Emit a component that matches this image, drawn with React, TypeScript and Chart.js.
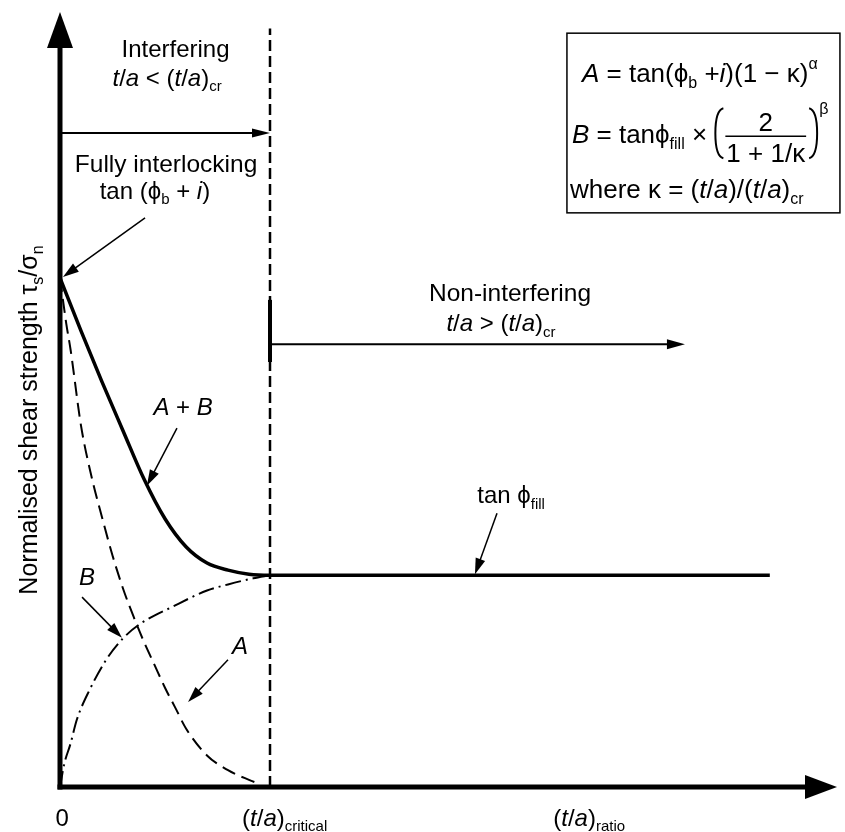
import React, { useEffect, useRef } from 'react';
import { Chart, registerables } from 'chart.js';

Chart.register(...registerables);

// A + B (solid): drops from tan(phi_b + i) then runs flat at tan(phi_fill)
const sumX = [0, 0.1, 0.2, 0.3, 0.4, 0.5, 0.6, 0.7, 0.8, 0.9, 1.0, 3.38];
const sumY = [1.0, 0.896, 0.796, 0.7, 0.605, 0.527, 0.472, 0.44, 0.426, 0.418, 0.416, 0.416];

// A (dashed)
const aX = [0, 0.03, 0.05, 0.1, 0.15, 0.2, 0.25, 0.3, 0.35, 0.4, 0.45, 0.5, 0.55, 0.6, 0.7, 0.8, 0.9, 0.95];
const aY = [1.0, 0.91, 0.86, 0.71, 0.61, 0.53, 0.455, 0.39, 0.335, 0.285, 0.24, 0.195, 0.155, 0.115, 0.062, 0.033, 0.014, 0.006];

// B (dash-dot)
const bX = [0, 0.02, 0.05, 0.08, 0.14, 0.22, 0.3, 0.38, 0.54, 0.7, 0.8, 0.92, 1.0];
const bY = [0, 0.045, 0.085, 0.132, 0.19, 0.25, 0.292, 0.32, 0.355, 0.386, 0.398, 0.41, 0.416];

// (t/a)critical marker line
const critX = [1, 1];
const critY = [0, 1.49];

// x positions of the axis labels: 0, (t/a)critical, (t/a)ratio
const tickX = [0.01, 1.07, 2.52];

const X_MAX = 3.7;
const Y_MAX = 1.5226;

const FONT = '"Liberation Sans", Arial, Helvetica, sans-serif';
const PHI = '\u03d5';

type Seg = { t: string; i?: boolean; s?: 'sub' | 'sup' };

const toPoints = (xs: number[], ys: number[]) => xs.map((x, i) => ({ x, y: ys[i] }));

// draws mixed italic / sub / sup text, y = middle of the capitals
function rich(ctx: CanvasRenderingContext2D, segs: Seg[], x: number, y: number, size: number, align = 'center') {
  const small = Math.round(size * 0.62);
  const fontOf = (g: Seg) => `${g.i ? 'italic ' : ''}${g.s ? small : size}px ${FONT}`;
  let w = 0;
  for (const g of segs) {
    ctx.font = fontOf(g);
    w += ctx.measureText(g.t).width;
  }
  let cx = align === 'center' ? x - w / 2 : align === 'right' ? x - w : x;
  const base = y + size * 0.36;
  ctx.textAlign = 'left';
  ctx.textBaseline = 'alphabetic';
  for (const g of segs) {
    ctx.font = fontOf(g);
    const dy = g.s === 'sub' ? size * 0.24 : g.s === 'sup' ? -size * 0.5 : 0;
    ctx.fillText(g.t, cx, base + dy);
    cx += ctx.measureText(g.t).width;
  }
  return w;
}

function arrow(ctx: CanvasRenderingContext2D, x1: number, y1: number, x2: number, y2: number, lw: number, hl: number, hw: number) {
  const ang = Math.atan2(y2 - y1, x2 - x1);
  const bx = x2 - hl * Math.cos(ang);
  const by = y2 - hl * Math.sin(ang);
  ctx.lineWidth = lw;
  ctx.beginPath();
  ctx.moveTo(x1, y1);
  ctx.lineTo(bx + Math.cos(ang), by + Math.sin(ang));
  ctx.stroke();
  ctx.beginPath();
  ctx.moveTo(x2, y2);
  ctx.lineTo(bx + (hw / 2) * Math.sin(ang), by - (hw / 2) * Math.cos(ang));
  ctx.lineTo(bx - (hw / 2) * Math.sin(ang), by + (hw / 2) * Math.cos(ang));
  ctx.closePath();
  ctx.fill();
}

const ta: Seg[] = [{ t: 't', i: true }, { t: '/' }, { t: 'a', i: true }];

const diagramPlugin = {
  id: 'diagram',
  afterDatasetsDraw(chart: Chart) {
    const { ctx, chartArea: ca } = chart;
    const sx = chart.scales.x;
    const sy = chart.scales.y;
    const X = (v: number) => sx.getPixelForValue(v);
    const Y = (v: number) => sy.getPixelForValue(v);

    ctx.save();
    ctx.fillStyle = '#000';
    ctx.strokeStyle = '#000';
    ctx.lineCap = 'butt';

    // axes with arrow heads
    arrow(ctx, X(0) - 2.5, Y(0), ca.right, Y(0), 5, 32, 24);
    arrow(ctx, X(0), Y(0) + 2.5, X(0), ca.top, 5, 36, 26);

    // axis labels
    rich(ctx, [{ t: '0' }], X(tickX[0]), Y(0) + 30, 24);
    rich(ctx, [{ t: '(' }, ...ta, { t: ')' }, { t: 'critical', s: 'sub' }], X(tickX[1]), Y(0) + 30, 24);
    rich(ctx, [{ t: '(' }, ...ta, { t: ')' }, { t: 'ratio', s: 'sub' }], X(tickX[2]), Y(0) + 30, 24);

    // y title
    ctx.save();
    ctx.translate(X(-0.152), Y(0.721));
    ctx.rotate(-Math.PI / 2);
    rich(ctx, [
      { t: 'Normalised shear strength \u03c4' }, { t: 's', s: 'sub' },
      { t: '/\u03c3' }, { t: 'n', s: 'sub' },
    ], 0, 0, 25);
    ctx.restore();

    // interfering region
    rich(ctx, [{ t: 'Interfering' }], X(0.55), Y(1.452), 24);
    rich(ctx, [...ta, { t: ' < (' }, ...ta, { t: ')' }, { t: 'cr', s: 'sub' }], X(0.51), Y(1.395), 24);
    arrow(ctx, X(0), Y(1.285), X(1), Y(1.285), 2, 18, 9);

    rich(ctx, [{ t: 'Fully interlocking' }], X(0.505), Y(1.226), 24.5);
    rich(ctx, [{ t: 'tan (' + PHI }, { t: 'b', s: 'sub' }, { t: ' + ' }, { t: 'i', i: true }, { t: ')' }], X(0.452), Y(1.173), 24);
    arrow(ctx, X(0.405), Y(1.118), X(0.014), Y(1.002), 1.5, 16, 10);

    // non-interfering region
    rich(ctx, [{ t: 'Non-interfering' }], X(2.143), Y(0.972), 24.5);
    rich(ctx, [...ta, { t: ' > (' }, ...ta, { t: ')' }, { t: 'cr', s: 'sub' }], X(2.1), Y(0.912), 24);
    arrow(ctx, X(1), Y(0.87), X(2.976), Y(0.87), 2, 18, 10);
    ctx.lineWidth = 4;
    ctx.beginPath();
    ctx.moveTo(X(1), Y(0.957));
    ctx.lineTo(X(1), Y(0.835));
    ctx.stroke();

    // curve labels
    rich(ctx, [{ t: 'A', i: true }, { t: ' + ' }, { t: 'B', i: true }], X(0.586), Y(0.747), 24);
    arrow(ctx, X(0.557), Y(0.705), X(0.414), Y(0.592), 1.5, 16, 10);

    rich(ctx, [{ t: 'tan ' + PHI }, { t: 'fill', s: 'sub' }], X(2.148), Y(0.574), 24);
    arrow(ctx, X(2.081), Y(0.538), X(1.976), Y(0.418), 1.5, 16, 10);

    rich(ctx, [{ t: 'B', i: true }], X(0.129), Y(0.413), 24);
    arrow(ctx, X(0.105), Y(0.373), X(0.295), Y(0.293), 1.5, 16, 10);

    rich(ctx, [{ t: 'A', i: true }], X(0.857), Y(0.279), 24);
    arrow(ctx, X(0.8), Y(0.25), X(0.61), Y(0.167), 1.5, 16, 10);

    // formula box
    const bx0 = X(2.414);
    const by0 = Y(1.481);
    const bx1 = X(3.714);
    const by1 = Y(1.128);
    ctx.lineWidth = 1.5;
    ctx.strokeRect(bx0, by0, bx1 - bx0, by1 - by0);

    const fs = 26;
    rich(ctx, [
      { t: 'A', i: true }, { t: ' = tan(' + PHI }, { t: 'b', s: 'sub' }, { t: ' +' },
      { t: 'i', i: true }, { t: ')(1 \u2212 \u03ba)' }, { t: '\u03b1', s: 'sup' },
    ], bx0 + 15, by0 + 39, fs, 'left');

    const ly = by0 + 100;
    let cx = bx0 + 5;
    cx += rich(ctx, [{ t: 'B', i: true }, { t: ' = tan' + PHI }, { t: 'fill', s: 'sub' }, { t: ' \u00d7 ' }], cx, ly, fs, 'left');
    // left bracket
    ctx.lineWidth = 2;
    ctx.beginPath();
    ctx.moveTo(cx + 9, ly - 25);
    ctx.quadraticCurveTo(cx + 1, ly - 23, cx + 1, ly);
    ctx.quadraticCurveTo(cx + 1, ly + 23, cx + 9, ly + 25);
    ctx.stroke();
    cx += 12;
    ctx.font = `${fs}px ${FONT}`;
    const den = '1 + 1/\u03ba';
    const dw = ctx.measureText(den).width;
    rich(ctx, [{ t: '2' }], cx + dw / 2, ly - 12, fs);
    rich(ctx, [{ t: den }], cx + dw / 2, ly + 19, fs);
    ctx.lineWidth = 1.5;
    ctx.beginPath();
    ctx.moveTo(cx - 1, ly + 3);
    ctx.lineTo(cx + dw + 1, ly + 3);
    ctx.stroke();
    cx += dw + 4;
    // right bracket
    ctx.lineWidth = 2;
    ctx.beginPath();
    ctx.moveTo(cx, ly - 25);
    ctx.quadraticCurveTo(cx + 8, ly - 23, cx + 8, ly);
    ctx.quadraticCurveTo(cx + 8, ly + 23, cx, ly + 25);
    ctx.stroke();
    rich(ctx, [{ t: '\u03b2', s: 'sup' }], cx + 10, ly - 16, fs, 'left');

    rich(ctx, [
      { t: 'where \u03ba = (' }, ...ta, { t: ')/(' }, ...ta, { t: ')' }, { t: 'cr', s: 'sub' },
    ], bx0 + 3, by0 + 155, fs, 'left');

    ctx.restore();
  },
};

const App: React.FC = () => {
  const canvasRef = useRef<HTMLCanvasElement | null>(null);

  useEffect(() => {
    const canvas = canvasRef.current;
    if (!canvas) return;

    const chart = new Chart(canvas, {
      type: 'line',
      data: {
        datasets: [
          {
            label: 'A + B',
            data: toPoints(sumX, sumY),
            borderColor: '#000',
            borderWidth: 3.5,
            pointRadius: 0,
            cubicInterpolationMode: 'monotone',
            clip: false,
          },
          {
            label: 'A',
            data: toPoints(aX, aY),
            borderColor: '#000',
            borderWidth: 2,
            borderDash: [14, 7],
            pointRadius: 0,
            cubicInterpolationMode: 'monotone',
            clip: false,
          },
          {
            label: 'B',
            data: toPoints(bX, bY),
            borderColor: '#000',
            borderWidth: 2,
            borderDash: [16, 5, 2, 5],
            pointRadius: 0,
            cubicInterpolationMode: 'monotone',
            clip: false,
          },
          {
            label: '(t/a)critical',
            data: toPoints(critX, critY),
            borderColor: '#000',
            borderWidth: 2.5,
            borderDash: [11, 5],
            pointRadius: 0,
            tension: 0,
            clip: false,
          },
        ],
      },
      options: {
        animation: false,
        responsive: false,
        events: [],
        layout: { padding: { left: 60, right: 8, top: 12, bottom: 45 } },
        scales: {
          x: { type: 'linear', min: 0, max: X_MAX, display: false },
          y: { type: 'linear', min: 0, max: Y_MAX, display: false },
        },
        plugins: {
          legend: { display: false },
          tooltip: { enabled: false },
        },
      },
      plugins: [diagramPlugin],
    } as any);

    return () => {
      chart.destroy();
    };
  }, []);

  return (
    <div style={{ position: 'absolute', left: 0, top: 0, width: 845, height: 832, background: '#fff' }}>
      <canvas ref={canvasRef} width={845} height={832} />
    </div>
  );
};

export default App;
